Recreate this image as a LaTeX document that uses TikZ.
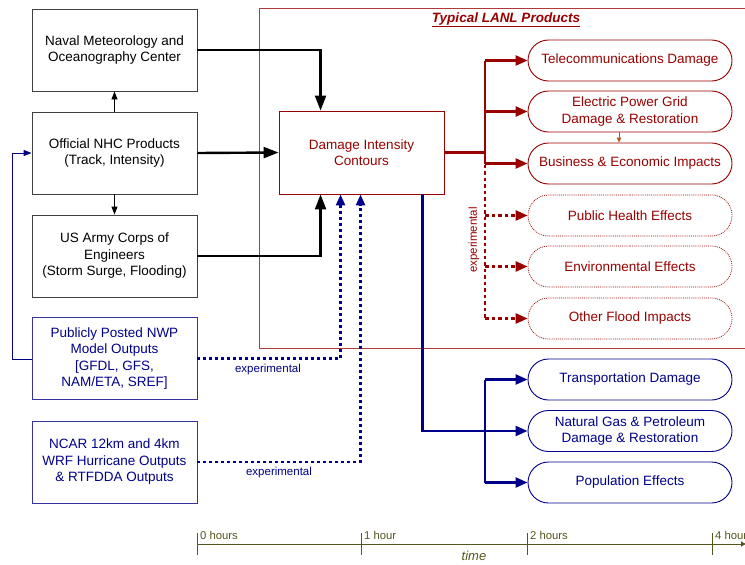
\documentclass[tikz,border=0pt]{standalone}
\usepackage{fontspec}
\setmainfont{Liberation Sans}
\usetikzlibrary{arrows.meta,calc,shapes.misc}
\definecolor{dred}{HTML}{990000}
\definecolor{fred}{HTML}{B03A3A}
\definecolor{navy}{HTML}{00008B}
\definecolor{olivec}{HTML}{55551E}
\definecolor{bgray}{HTML}{404040}
\definecolor{brn}{HTML}{B05A20}
\begin{document}
\begin{tikzpicture}[x=1pt,y=-1pt,
  txt/.style={font=\fontsize{13.5}{16.5}\selectfont, align=center},
  srcbox/.style={txt, draw=bgray, line width=0.9pt, minimum width=165pt, minimum height=82pt, inner sep=2pt},
  bsrc/.style={srcbox, draw=navy!80!white, text=navy},
  prod/.style={txt, draw=dred, text=dred, line width=0.9pt, rounded rectangle, rounded rectangle arc length=180, minimum width=206pt, minimum height=41pt, inner sep=1pt},
  bprod/.style={prod, draw=navy, text=navy},
  xprod/.style={prod, densely dotted, line width=0.7pt},
  thk/.style={line width=2.4pt, -{Triangle[length=15pt,width=11pt]}},
  thn/.style={line width=0.9pt, -{Triangle[length=8pt,width=6pt]}},
  bdot/.style={line width=2.4pt, navy, dash pattern=on 3pt off 3pt, -{Triangle[length=11pt,width=9pt]}},
  rdash/.style={line width=2.4pt, dred, dash pattern=on 3.5pt off 3pt, -{Triangle[length=12pt,width=10pt]}},
  rsol/.style={line width=2.4pt, dred, -{Triangle[length=12pt,width=10pt]}},
  bsol/.style={line width=2.4pt, navy, -{Triangle[length=12pt,width=10pt]}},
  small/.style={font=\fontsize{11.5}{13}\selectfont},
  tl/.style={font=\fontsize{11.3}{13}\selectfont, text=olivec, anchor=south west, inner sep=1pt}
]
\clip (0,0) rectangle (745,565);
\fill[white] (0,0) rectangle (745,565);

% LANL frame
\draw[fred, line width=0.9pt] (259,8.5) rectangle (800,348);
\node[dred, font=\fontsize{13.5}{16}\selectfont\bfseries\itshape] (title) at (506,20) {\underline{Typical LANL Products}};

% sources
\node[srcbox] (naval) at (114.5,50) {Naval Meteorology and\\Oceanography Center};
\node[srcbox] (nhc) at (114.5,153) {Official NHC Products\\(Track, Intensity)};
\node[srcbox] (usace) at (114.5,256) {US Army Corps of\\Engineers\\(Storm Surge, Flooding)};
\node[bsrc] (nwp) at (114.5,358.5) {Publicly Posted NWP\\Model Outputs\\{[GFDL, GFS,}\\NAM/ETA, SREF]};
\node[bsrc] (ncar) at (114.5,462) {NCAR 12km and 4km\\WRF Hurricane Outputs\\\& RTFDDA Outputs};

% central
\node[txt, draw=dred, text=dred, line width=0.9pt, minimum width=165pt, minimum height=83pt] (di) at (361.5,152.5) {Damage Intensity\\Contours};

% products
\node[prod] (tel) at (630,60.5) {Telecommunications Damage};
\node[prod] (elec) at (630,111.5) {Electric Power Grid\\Damage \& Restoration};
\node[prod] (bus) at (630,163.5) {Business \& Economic Impacts};
\node[xprod] (ph) at (630,215.5) {Public Health Effects};
\node[xprod] (env) at (630,266.5) {Environmental Effects};
\node[xprod] (ofi) at (630,318.5) {Other Flood Impacts};
\node[bprod] (tra) at (630,379.5) {Transportation Damage};
\node[bprod] (ng) at (630,431) {Natural Gas \& Petroleum\\Damage \& Restoration};
\node[bprod] (pop) at (630,482.5) {Population Effects};

% black connectors
\draw[thk] (naval.east) -| ([xshift=42pt]di.north west);
\draw[thk] (nhc.east) -- (di.west);
\draw[thk] (usace.east) -| ([xshift=42pt]di.south west);
\draw[thn] (nhc.north) -- (naval.south);
\draw[thn] (nhc.south) -- (usace.north);

% blue feedback
\coordinate (fb) at (12,359);
\draw[navy, line width=0.9pt, -{Triangle[length=8pt,width=6pt]}] (nwp.west |- fb) -- (fb) |- (nhc.west);

% blue dotted experimental
\draw[bdot] (nwp.east) -| ([xshift=62pt]di.south west);
\draw[bdot] (ncar.east) -| ([xshift=82pt]di.south west);
\node[small, text=navy] (ex1) at (268,370) {experimental};
\node[small, text=navy] (ex2) at (279,473) {experimental};

% red branches
\coordinate (br) at (485,152.5);
\draw[dred, line width=2.4pt] (di.east) -- (br);
\draw[dred, line width=2.4pt] (br |- bus.west) -- (br |- tel.west);
\draw[rsol] (br |- tel.west) -- (tel.west);
\draw[rsol] (br |- elec.west) -- (elec.west);
\draw[rsol] (br |- bus.west) -- (bus.west);
\draw[dred, line width=2.4pt, dash pattern=on 3.5pt off 3pt] ([yshift=-1pt]br |- bus.west) -- (br |- ofi.west);
\draw[rdash] (br |- ph.west) -- (ph.west);
\draw[rdash] (br |- env.west) -- (env.west);
\draw[rdash] (br |- ofi.west) -- (ofi.west);
\node[small, text=dred, rotate=90] (ex3) at (474,240) {experimental};
\draw[brn, line width=0.8pt, -{Triangle[length=5pt,width=4.5pt]}] ([xshift=-11pt]elec.south) -- ([xshift=-11pt]bus.north);

% blue branches
\coordinate (bb) at (485,431);
\draw[bsol] ([xshift=144pt]di.south west) |- (ng.west);
\draw[navy, line width=2.4pt] (bb |- tra.west) -- (bb |- pop.west);
\draw[bsol] (bb |- tra.west) -- (tra.west);
\draw[bsol] (bb |- pop.west) -- (pop.west);

% timeline
\coordinate (t0) at (197,544);
\coordinate (t1) at (361,544);
\coordinate (t2) at (527,544);
\coordinate (t4) at (712,544);
\coordinate (tend) at (746,544);
\draw[olivec, line width=0.9pt, -{Latex[length=5pt,width=6pt]}] (t0) -- (tend);
\foreach \t in {t0,t1,t2,t4} \draw[olivec, line width=0.9pt] ([yshift=11pt]\t) -- ([yshift=-11pt]\t);
\node[tl] (l0) at ([xshift=2pt,yshift=3pt]t0) {0 hours};
\node[tl] (l1) at ([xshift=2pt,yshift=3pt]t1) {1 hour};
\node[tl] (l2) at ([xshift=2pt,yshift=3pt]t2) {2 hours};
\node[tl] (l4) at ([xshift=2pt,yshift=3pt]t4) {4 hours};
\node[font=\fontsize{13}{15}\selectfont\itshape, text=olivec] (time) at (474,556) {time};
\end{tikzpicture}
\end{document}
